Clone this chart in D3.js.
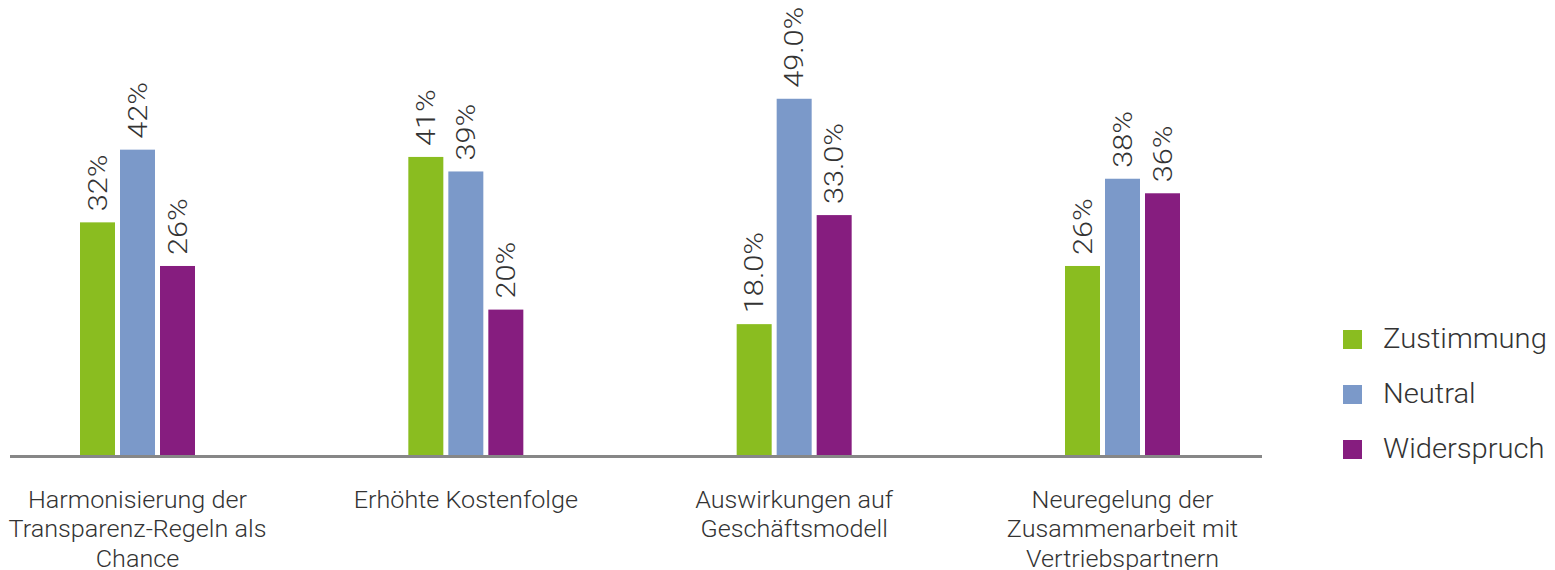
<!DOCTYPE html>
<html>
<head>
<meta charset="utf-8">
<script src="https://cdn.jsdelivr.net/npm/d3@7"></script>
<style>
  html, body { margin: 0; padding: 0; background: #fff; }
  svg { display: block; font-family: Roboto, "Liberation Sans", sans-serif; font-weight: 300; }
</style>
</head>
<body>
<svg id="chart" width="1555" height="570"></svg>
<script>
// Survey results per topic
const categories = [
  ["Harmonisierung der", "Transparenz-Regeln als", "Chance"],
  ["Erhöhte Kostenfolge"],
  ["Auswirkungen auf", "Geschäftsmodell"],
  ["Neuregelung der", "Zusammenarbeit mit", "Vertriebspartnern"]
];
const seriesNames = ["Zustimmung", "Neutral", "Widerspruch"];
const seriesColors = ["#8abd20", "#7b99c9", "#861d7f"];
const zustimmung = [32, 41, 18, 26];
const neutral = [42, 39, 49, 38];
const widerspruch = [26, 20, 33, 36];
const valueLabels = [
  ["32%", "42%", "26%"],
  ["41%", "39%", "20%"],
  ["18.0%", "49.0%", "33.0%"],
  ["26%", "38%", "36%"]
];

const series = [zustimmung, neutral, widerspruch];
const svg = d3.select("#chart");

const baseY = 455;
const y = d3.scaleLinear().domain([0, 50]).range([baseY, baseY - 363.5]);
const x0 = d3.scalePoint().domain(d3.range(categories.length)).range([137.5, 1122.5]);
const x1 = d3.scaleBand().domain(d3.range(series.length)).range([-57.5, 57.5]).paddingInner(0.125).paddingOuter(0);

const groups = svg.append("g").selectAll("g")
  .data(categories.map((c, i) => i))
  .join("g")
  .attr("transform", i => `translate(${x0(i)},0)`);

groups.selectAll("rect")
  .data(i => series.map((s, k) => ({ k, v: s[i] })))
  .join("rect")
  .attr("x", d => x1(d.k))
  .attr("width", x1.bandwidth())
  .attr("y", d => y(d.v))
  .attr("height", d => baseY - y(d.v))
  .attr("fill", d => seriesColors[d.k]);

// value labels, rotated and slightly widened
groups.selectAll("text.val")
  .data(i => series.map((s, k) => ({ k, v: s[i], label: valueLabels[i][k] })))
  .join("text")
  .attr("class", "val")
  .attr("transform", d => `translate(${x1(d.k) + x1.bandwidth() / 2},${y(d.v) - 11}) rotate(-90) scale(1.18,1)`)
  .attr("dy", "0.35em")
  .attr("font-size", 26)
  .attr("fill", "#333")
  .text(d => d.label);

// baseline
svg.append("line")
  .attr("x1", 10).attr("x2", 1262)
  .attr("y1", baseY + 1.5).attr("y2", baseY + 1.5)
  .attr("stroke", "#878787").attr("stroke-width", 3);

// category labels
const cat = svg.append("g").selectAll("text")
  .data(categories)
  .join("text")
  .attr("transform", (d, i) => `translate(${x0(i)},508) scale(1.095,1)`)
  .attr("text-anchor", "middle")
  .attr("font-size", 23)
  .attr("fill", "#333");
cat.selectAll("tspan")
  .data(d => d)
  .join("tspan")
  .attr("x", 0)
  .attr("dy", (d, j) => j === 0 ? 0 : 29.5)
  .text(d => d);

// legend
const legend = svg.append("g").selectAll("g")
  .data(seriesNames)
  .join("g")
  .attr("transform", (d, i) => `translate(1343,${330 + i * 55})`);
legend.append("rect")
  .attr("width", 19).attr("height", 19)
  .attr("fill", (d, i) => seriesColors[i]);
legend.append("text")
  .attr("transform", "translate(40,18) scale(1.08,1)")
  .attr("font-size", 27)
  .attr("fill", "#333")
  .text(d => d);
</script>
</body>
</html>
